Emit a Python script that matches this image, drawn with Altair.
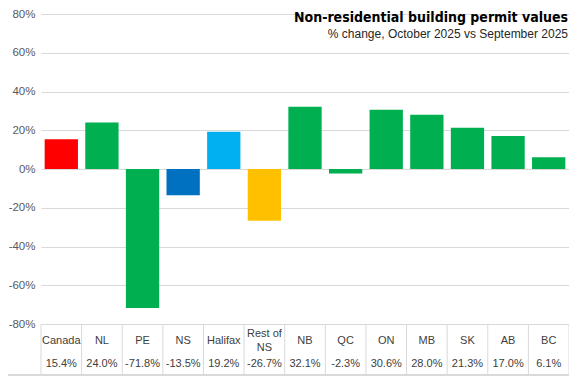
import altair as alt
import pandas as pd

categories = ["Canada", "NL", "PE", "NS", "Halifax", "Rest of\nNS", "NB", "QC", "ON", "MB", "SK", "AB", "BC"]
values = [15.4, 24.0, -71.8, -13.5, 19.2, -26.7, 32.1, -2.3, 30.6, 28.0, 21.3, 17.0, 6.1]
colors = ["#ff0000", "#00b050", "#00b050", "#0070c0", "#00b0f0", "#ffc000",
          "#00b050", "#00b050", "#00b050", "#00b050", "#00b050", "#00b050", "#00b050"]
y_ticks = [-80, -60, -40, -20, 0, 20, 40, 60, 80]
title_text = "Non-residential  building  permit values"
subtitle_text = "% change, October 2025 vs September 2025"

W, H = 528, 310
LEFT = 33
TABLE_H = 50

df = pd.DataFrame({
    "cat": categories, "value": values, "color": colors,
    "i": list(range(len(categories))),
    "lab": [f"{v:.1f}%" for v in values],
    "nl": [c.count("\n") for c in categories],
})
bounds = pd.DataFrame({"b": list(range(len(categories) + 1))})

x_scale = alt.Scale(domain=[0, len(categories)], nice=False, zero=False)
y_scale = alt.Scale(domain=[-80, 80], nice=False)

base = alt.Chart(df).transform_calculate(
    x0="datum.i + 0.09", x1="datum.i + 0.91", xc="datum.i + 0.5",
    ty=f"{H + 17} - 7 * datum.nl"
)

bars = base.mark_bar().encode(
    x=alt.X("x0:Q", scale=x_scale, axis=None),
    x2="x1:Q",
    y=alt.Y("value:Q", scale=y_scale,
            axis=alt.Axis(values=y_ticks, labelExpr="datum.value + '%'", grid=True,
                          gridColor="#d9d9d9", gridWidth=1, domain=False, ticks=False,
                          title=None, labelPadding=6, labelColor="#595959",
                          labelFont="Liberation Sans", labelFontSize=11.5)),
    y2=alt.datum(0),
    color=alt.Color("color:N", scale=None),
)

cat_text = base.mark_text(font="Liberation Sans", fontSize=11, color="#404040",
                          lineBreak="\n", baseline="middle", lineHeight=14).encode(
    x=alt.X("xc:Q", scale=x_scale), y=alt.Y("ty:Q", scale=None), text="cat:N")

val_text = base.mark_text(font="Liberation Sans", fontSize=11, color="#404040",
                          baseline="middle").encode(
    x=alt.X("xc:Q", scale=x_scale), y=alt.value(H + 40), text="lab:N")

seps = alt.Chart(bounds).mark_rule(color="#d9d9d9", strokeWidth=1).encode(
    x=alt.X("b:Q", scale=x_scale), y=alt.value(H), y2=alt.value(H + TABLE_H))

bottom = alt.Chart(bounds).mark_rule(color="#d9d9d9", strokeWidth=1).encode(
    x=alt.value(-LEFT), x2=alt.value(W), y=alt.value(H + TABLE_H + 1))

title = alt.Chart(pd.DataFrame({"t": [title_text]})).mark_text(
    font="DejaVu Sans Condensed", fontWeight="bold", fontSize=14, color="#000000",
    align="right", baseline="middle").encode(x=alt.value(W - 1), y=alt.value(4), text="t:N")

subtitle = alt.Chart(pd.DataFrame({"t": [subtitle_text]})).mark_text(
    font="Liberation Sans", fontSize=12, color="#262626",
    align="right", baseline="middle").encode(x=alt.value(W - 1), y=alt.value(20), text="t:N")

chart = alt.layer(bars, seps, bottom, cat_text, val_text, title, subtitle).properties(
    width=W, height=H,
    autosize=alt.AutoSizeParams(type="none"),
    padding={"left": LEFT, "top": 6, "right": 0, "bottom": TABLE_H + 2},
    background="white",
).configure_view(stroke=None)

chart.save("out.html", embed_options={"renderer": "svg", "actions": False})
